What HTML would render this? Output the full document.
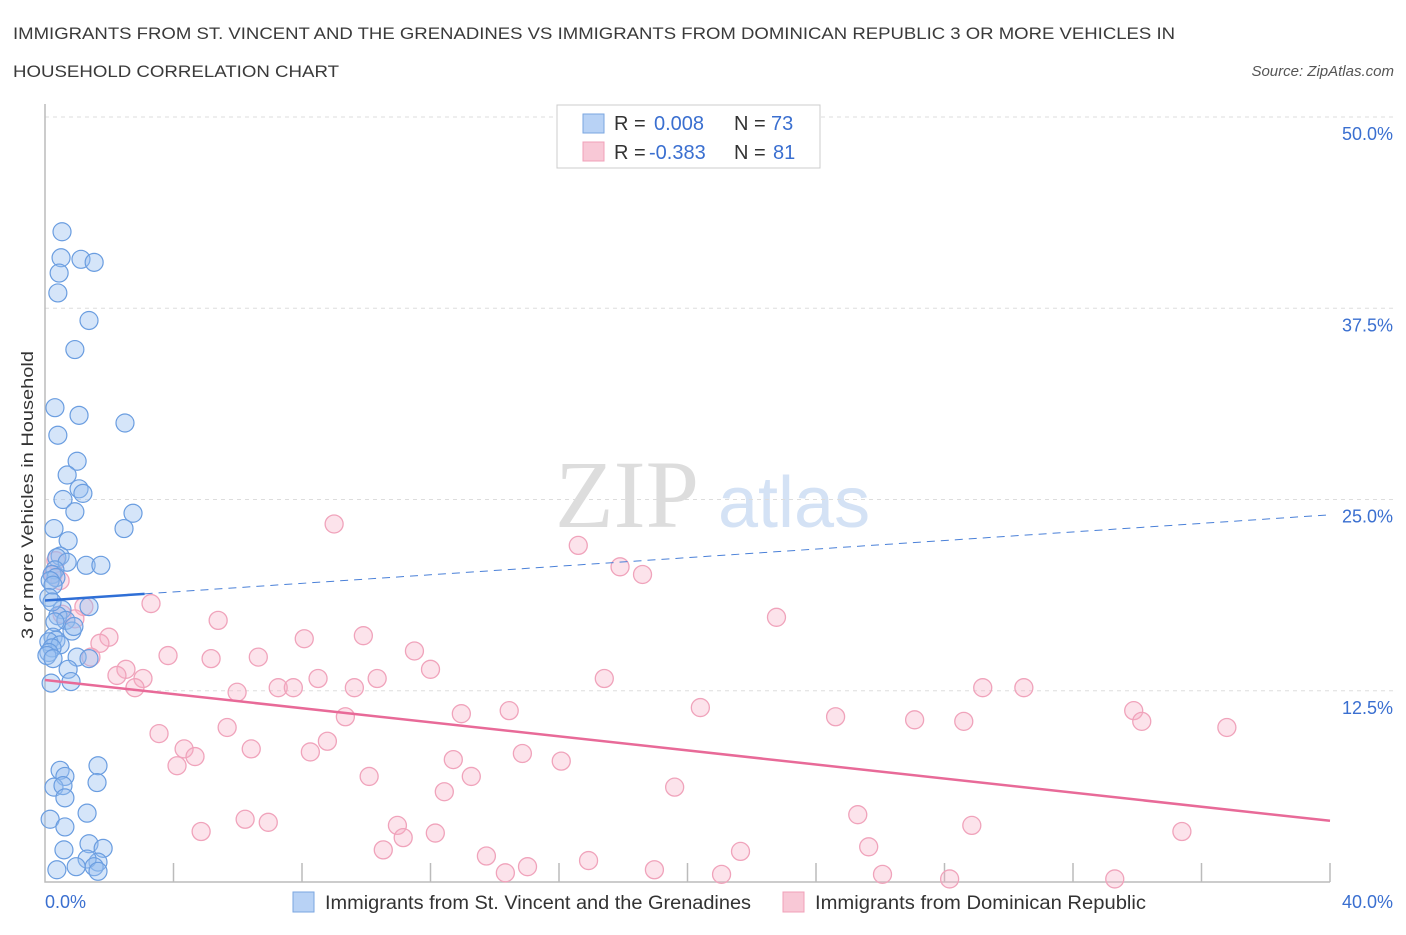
<!DOCTYPE html>
<html><head><meta charset="utf-8"><style>
body{margin:0;background:#fff;font-family:"Liberation Sans",sans-serif}
</style></head><body>
<svg id="chart" width="1406" height="930" xmlns="http://www.w3.org/2000/svg" font-family="Liberation Sans, sans-serif">
<text x="13" y="39" font-size="17" fill="#3a3a3a" textLength="1162" lengthAdjust="spacingAndGlyphs">IMMIGRANTS FROM ST. VINCENT AND THE GRENADINES VS IMMIGRANTS FROM DOMINICAN REPUBLIC 3 OR MORE VEHICLES IN</text>
<text x="13" y="77" font-size="17" fill="#3a3a3a" textLength="326" lengthAdjust="spacingAndGlyphs">HOUSEHOLD CORRELATION CHART</text>
<text x="1394" y="76" font-size="15" fill="#555" font-style="italic" text-anchor="end">Source: ZipAtlas.com</text>
<text x="555" y="527" font-size="96" fill="#ddd" font-family="Liberation Serif, serif">ZIP</text>
<text x="718" y="527" font-size="72" fill="#d4e2f5">atlas</text>
<text transform="translate(33,495) rotate(-90)" font-size="17" fill="#333" text-anchor="middle" textLength="288" lengthAdjust="spacingAndGlyphs">3 or more Vehicles in Household</text>
<g id="grid"></g><g id="axes"></g><g id="pts"></g><g id="trend"></g>
<g>
<rect x="557" y="105" width="263" height="63" fill="#fff" stroke="#ccc"/>
<rect x="583" y="114" width="21" height="19" fill="#b8d2f5" stroke="#7aa6e0"/>
<rect x="583" y="142" width="21" height="19" fill="#f8c8d6" stroke="#f0a0b8"/>
<text x="614" y="130" font-size="20" fill="#333">R = </text>
<text x="654" y="130" font-size="20" fill="#3a6fd0">0.008</text>
<text x="734" y="130" font-size="20" fill="#333">N =</text>
<text x="771" y="130" font-size="20" fill="#3a6fd0">73</text>
<text x="614" y="159" font-size="20" fill="#333">R = </text>
<text x="649" y="159" font-size="20" fill="#3a6fd0">-0.383</text>
<text x="734" y="159" font-size="20" fill="#333">N =</text>
<text x="773" y="159" font-size="20" fill="#3a6fd0">81</text>
</g>
<g>
<rect x="293" y="892" width="21" height="20" fill="#b8d2f5" stroke="#7aa6e0"/>
<text x="325" y="909" font-size="19" fill="#333" textLength="426" lengthAdjust="spacingAndGlyphs">Immigrants from St. Vincent and the Grenadines</text>
<rect x="783" y="892" width="21" height="20" fill="#f8c8d6" stroke="#f0a0b8"/>
<text x="815" y="909" font-size="19" fill="#333" textLength="331" lengthAdjust="spacingAndGlyphs">Immigrants from Dominican Republic</text>
</g>
</svg>
<script>
const yTicks=[12.5,25,37.5,50];
const yTickLabels=["12.5%","25.0%","37.5%","50.0%"];
const blueX=[0.53,0.50,1.12,1.53,0.44,0.40,1.37,0.93,0.31,1.06,2.49,0.40,1.0,0.69,1.06,1.18,0.56,0.93,2.74,0.28,2.46,0.72,0.47,0.37,1.28,1.74,0.69,0.31,0.22,0.34,0.16,0.25,0.12,1.37,0.53,0.40,0.65,0.31,0.84,0.25,0.34,0.12,0.47,0.22,0.12,0.06,0.25,1.0,1.37,0.72,0.81,0.19,1.65,0.47,0.62,1.62,0.28,0.56,0.62,1.31,0.16,0.62,1.37,0.59,1.81,1.65,1.31,1.53,0.37,0.97,1.65,0.22,0.9];
const blueY=[42.5,40.8,40.7,40.5,39.8,38.5,36.7,34.8,31.0,30.5,30.0,29.2,27.5,26.6,25.7,25.4,25.0,24.2,24.1,23.1,23.1,22.3,21.3,21.2,20.7,20.7,20.9,20.4,20.1,19.9,19.7,19.4,18.6,18.0,17.8,17.4,17.1,17.0,16.4,16.0,15.8,15.7,15.5,15.3,15.0,14.8,14.6,14.7,14.6,13.9,13.1,13.0,7.6,7.3,6.9,6.5,6.2,6.3,5.5,4.5,4.1,3.6,2.5,2.1,2.2,1.3,1.5,1.0,0.8,1.0,0.7,18.3,16.7];
const pinkX=[9.0,16.6,17.9,18.6,0.34,0.25,0.47,3.30,1.21,0.53,0.93,5.39,22.77,1.99,1.71,8.07,9.91,11.5,3.83,1.43,5.17,6.64,12.0,2.52,2.24,3.05,8.5,10.34,2.80,5.98,7.26,7.73,9.63,17.41,29.19,30.47,12.96,14.45,20.40,24.61,27.07,28.6,33.89,34.14,36.79,9.35,5.67,3.55,8.79,4.33,6.42,8.26,4.67,4.11,14.86,12.71,16.07,10.09,13.27,12.43,19.6,25.3,6.23,6.95,4.86,10.97,28.85,35.39,12.15,11.15,10.53,21.65,25.64,13.74,16.92,15.02,18.97,14.33,21.06,26.07,28.16,33.3];
const pinkY=[23.4,22.0,20.6,20.1,21.0,20.1,19.7,18.2,18.0,17.5,17.2,17.1,17.3,16.0,15.6,15.9,16.1,15.1,14.8,14.7,14.6,14.7,13.9,13.9,13.5,13.3,13.3,13.3,12.7,12.4,12.7,12.7,12.7,13.3,12.7,12.7,11.0,11.2,11.4,10.8,10.6,10.5,11.2,10.5,10.1,10.8,10.1,9.7,9.2,8.7,8.7,8.5,8.2,7.6,8.4,8.0,7.9,6.9,6.9,5.9,6.2,4.4,4.1,3.9,3.3,3.7,3.7,3.3,3.2,2.9,2.1,2.0,2.3,1.7,1.4,1.0,0.8,0.6,0.5,0.5,0.2,0.2];
const blueTrend=[18.4,24.0];
const pinkTrend=[13.2,4.0];
const X0=45,X1=1330,Y0=882,Y1=117;
const xs=v=>X0+(v/40)*(X1-X0);
const ys=v=>Y0-(v/50)*(Y0-Y1);
const NS="http://www.w3.org/2000/svg";
function mk(t,a,p){const e=document.createElementNS(NS,t);for(const k in a)e.setAttribute(k,a[k]);p.appendChild(e);return e;}
const grid=document.getElementById('grid'),axes=document.getElementById('axes'),pts=document.getElementById('pts'),tr=document.getElementById('trend');
yTicks.forEach((t,i)=>{
 const l=mk('line',{x1:X0,x2:1395,y1:ys(t),y2:ys(t),stroke:'#ddd','stroke-dasharray':'4,4'},grid);
 
 
 const tx=mk('text',{x:1393,y:ys(t)+23,'text-anchor':'end','font-size':18,fill:'#3a6fd0'},grid);
 tx.textContent=yTickLabels[i];
 
 
});
const ax=mk('path',{d:`M${X0} 104 V${Y0} H${X1}`,stroke:'#bbb',fill:'none','stroke-width':1.5},axes);


for(let i=1;i<=10;i++){const t=mk('line',{x1:xs(i*4),x2:xs(i*4),y1:Y0-19,y2:Y0,stroke:'#bbb','stroke-width':1.5},axes);
 
 }
const xl=mk('text',{x:45,y:908,'font-size':18,fill:'#3a6fd0'},axes);xl.textContent='0.0%';


const xr=mk('text',{x:1393,y:908,'font-size':18,fill:'#3a6fd0','text-anchor':'end'},axes);xr.textContent='40.0%';


pinkX.forEach((x,i)=>{const c=mk('circle',{cx:xs(x),cy:ys(pinkY[i]),r:9,fill:'rgba(245,175,198,0.35)',stroke:'#f0a3bb','stroke-width':1.3},pts);
 
 });
blueX.forEach((x,i)=>{const c=mk('circle',{cx:xs(x),cy:ys(blueY[i]),r:9,fill:'rgba(150,190,240,0.4)',stroke:'#6a9de0','stroke-width':1.2},pts);
 
 });
const bAt=x=>blueTrend[0]+(blueTrend[1]-blueTrend[0])*x/40;
const b1=mk('line',{x1:xs(0),y1:ys(bAt(0)),x2:xs(3.1),y2:ys(bAt(3.1)),stroke:'#2f6fd6','stroke-width':2.5},tr);


const b2=mk('line',{x1:xs(3.1),y1:ys(bAt(3.1)),x2:xs(40),y2:ys(bAt(40)),stroke:'#4a80d8','stroke-width':1,'stroke-dasharray':'8,6'},tr);


const p1=mk('line',{x1:xs(0),y1:ys(pinkTrend[0]),x2:xs(40),y2:ys(pinkTrend[1]),stroke:'#e86a98','stroke-width':2.5},tr);


</script>
</body></html>
